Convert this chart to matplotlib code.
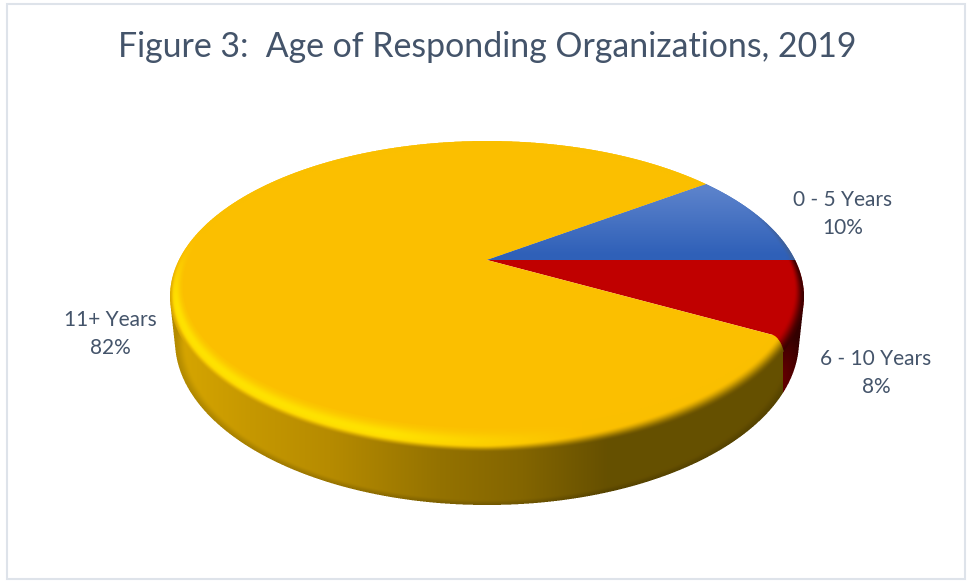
import numpy as np
import matplotlib
matplotlib.use("Agg")
import matplotlib.pyplot as plt
from matplotlib.patches import Polygon, Rectangle

categories = ["0 - 5 Years", "6 - 10 Years", "11+ Years"]
values = [10, 8, 82]
colors = ["#3A67BD", "#C00000", "#FBBF00"]
title = "Figure 3:  Age of Responding Organizations, 2019"
start_angle = 36.0

W, H = 969, 581
SS = 3

# perspective of the pie disc: apex, half widths, foreshortening
AX, AY, PA, PB, PK = 487.0, 260.0, 308.0, 146.9, 0.2347
# (cx, cy, rx, ry) of the ellipses used for the rim and the wall
INNER = (487.0, 287.0, 304.0, 141.0)
OUTER = (487.0, 296.5, 317.0, 155.5)
BOTTOM = (487.0, 341.0, 312.0, 164.0)


def hexrgb(c):
    return np.array(matplotlib.colors.to_rgb(c))


def smooth(a, b, x):
    v = np.clip((x - a) / (b - a), 0, 1)
    return v * v * (3 - 2 * v)


def project(deg):
    th = np.radians(deg)
    u, v = np.cos(th), np.sin(th)
    d = 1 + PK * v
    return AX + PA * u / d, AY - PB * v / d


def wedge_points(a0, a1):
    th = np.linspace(a0, a1, 200)
    x, y = project(th)
    return np.column_stack([np.r_[AX, x], np.r_[AY, y]])


def lerp_ell(e0, e1, t):
    return [e0[i] + (e1[i] - e0[i]) * t for i in range(4)]


def ell_val(x, y, e):
    return ((x - e[0]) / e[2]) ** 2 + ((y - e[1]) / e[3]) ** 2


fracs = np.array(values) / sum(values)
cum = np.cumsum(fracs)

# shading layer, worked out on a finer grid and averaged down
x0, x1, y0, y1 = 160, 815, 130, 515
xs = x0 + (np.arange((x1 - x0) * SS) + 0.5) / SS
ys = y0 + (np.arange((y1 - y0) * SS) + 0.5) / SS
X, Y = np.meshgrid(xs, ys)

# rim position: 0 on the inner flat ellipse, 1 on the disc edge
lo = np.zeros_like(X)
hi = np.ones_like(X)
for _ in range(10):
    mid = (lo + hi) / 2
    e = lerp_ell(INNER, OUTER, mid)
    outside = ell_val(X, Y, e) > 1
    lo = np.where(outside, mid, lo)
    hi = np.where(outside, hi, mid)
t = (lo + hi) / 2
disc = ell_val(X, Y, OUTER) <= 1
rim = disc & (ell_val(X, Y, INNER) > 1)

# wall silhouette
wall = np.zeros_like(disc)
for s in np.linspace(0, 1, 30):
    wall |= ell_val(X, Y, lerp_ell(OUTER, BOTTOM, s)) <= 1
wall &= ~disc

# slice lookup from the angle around the apex
ang = np.degrees(np.arctan2(-(Y - AY) / PB, (X - AX) / PA))
frac = ((start_angle - ang) / 360.0) % 1.0
# the red/yellow seam bends a little as it goes over the rim
seam = cum[1] + t ** 1.5 * 4.0 / 360.0
idx = np.where(frac < cum[0], 0, np.where(frac < seam, 1, 2))

wall_x = [170, 250, 330, 440, 523, 607, 820]
wall_r = [0xD8, 0xC6, 0xB6, 0x94, 0x83, 0x66, 0x66]
wall_g = [0xA7, 0x98, 0x8B, 0x72, 0x65, 0x50, 0x50]
yellow_wall = np.stack([np.interp(X, wall_x, wall_r),
                        np.interp(X, wall_x, wall_g),
                        np.zeros_like(X)], axis=-1) / 255.0

px = (X - OUTER[0]) / OUTER[2]
ny = (Y - OUTER[1]) / OUTER[3]

rgb = np.zeros(X.shape + (3,))
alpha = np.zeros_like(X)

# side wall
red_mix = np.clip((Y - 340) / 55, 0, 1)[..., None]
red_wall = hexrgb("#3C0000") * (1 - red_mix) + hexrgb("#7A0000") * red_mix
wall_col = np.where((X > 783)[..., None], red_wall, yellow_wall)
edge = 1 - 0.16 * smooth(0.93, 1.0, ell_val(X, Y, BOTTOM))
rgb[wall] = (wall_col * edge[..., None])[wall]
alpha[wall] = 1

# rim of the top face
base = np.array([hexrgb(c) for c in colors])[idx]
edge_col = yellow_wall.copy()
edge_col[idx == 1] = hexrgb("#3C0000")
edge_col[idx == 0] = hexrgb("#3F5F96")
front = smooth(-0.35, 0.05, ny)
right = np.clip(px, 0, 1)
dark_w = smooth(0.7 - 0.5 * right, 1.0, t) * np.maximum(front, smooth(0.8, 0.97, px))
high_w = np.exp(-((t - 0.55) / 0.35) ** 2) * np.clip((0.3 - px) / 0.6, 0, 1) * smooth(-0.4, 0.1, ny)
col = base + (hexrgb("#FFE600") - base) * (high_w * (idx == 2) * 0.9)[..., None]
col = col + (edge_col - col) * dark_w[..., None]
rgb[rim] = col[rim]
alpha[rim] = 1

# the blue slice gets lighter towards the back
blue = (idx == 0) & disc
mix = np.clip((Y - 190) / 65, 0, 1)[..., None]
blue_col = hexrgb("#5B82CB") * (1 - mix) + hexrgb("#2F60B8") * mix
blue_col = blue_col + (edge_col - blue_col) * (dark_w * rim)[..., None]
rgb[blue] = blue_col[blue]
alpha[blue] = 1

rgba = np.dstack([rgb * alpha[..., None], alpha])
ny_, nx_ = rgba.shape[:2]
rgba = rgba.reshape(ny_ // SS, SS, nx_ // SS, SS, 4).mean(axis=(1, 3))
rgba[..., :3] = rgba[..., :3] / np.maximum(rgba[..., 3:], 1e-6)
rgba = np.clip(rgba, 0, 1)

fig = plt.figure(figsize=(W / 100, H / 100), dpi=100)
ax = fig.add_axes([0, 0, 1, 1])
ax.set_xlim(0, W)
ax.set_ylim(H, 0)
ax.axis("off")

ax.add_patch(Rectangle((7, 4), 958, 575, fill=False, edgecolor="#DEE3EA", linewidth=1.5))

# flat slices
angles = start_angle - np.r_[0, cum] * 360.0
for i, c in enumerate(colors):
    ax.add_patch(Polygon(wedge_points(angles[i], angles[i + 1]), closed=True,
                         facecolor=c, edgecolor="none", zorder=2))

ax.imshow(rgba, extent=(x0, x1, y1, y0), interpolation="nearest", zorder=3, aspect="auto")
ax.set_xlim(0, W)
ax.set_ylim(H, 0)

plt.rcParams["font.family"] = ["Lato", "DejaVu Sans"]
text_col = "#44546A"
ax.text(487, 47, title, ha="center", va="center", fontsize=24.4, color=text_col)

label_pos = [(843, 214), (876, 373), (110, 334)]
for cat, val, pos in zip(categories, values, label_pos):
    ax.text(pos[0], pos[1], f"{cat}\n{val}%", ha="center", va="center",
            multialignment="center", fontsize=15, color=text_col, linespacing=1.5)

fig.savefig("out.png", dpi=100)
